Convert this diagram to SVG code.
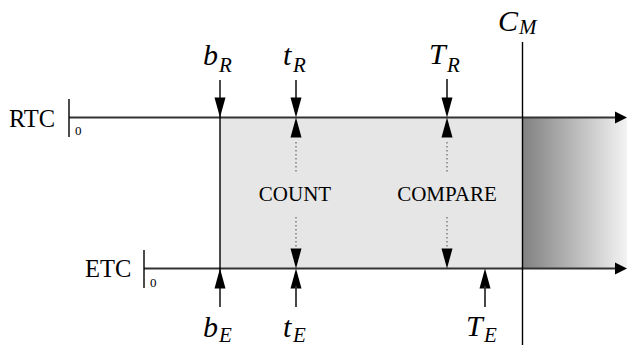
<svg xmlns="http://www.w3.org/2000/svg" xmlns:xlink="http://www.w3.org/1999/xlink" width="627" height="348" viewBox="0 0 627 348">
<style>
.ax{stroke:#333;stroke-width:2;fill:none}
.vl{stroke:#000;stroke-width:1.4;fill:none}
.ar{stroke:#333;stroke-width:1.8;fill:none}
.dot{stroke:#666;stroke-width:1.2;stroke-dasharray:1.5 2.5;fill:none}
.hd{fill:#000}
.tx{font-family:"Liberation Serif","Times New Roman",serif;fill:#000}
.m{font-family:"Liberation Serif","Times New Roman",serif;font-style:italic;fill:#000}
</style>
<defs>
<linearGradient id="g" x1="0" y1="0" x2="1" y2="0">
<stop offset="0" stop-color="#808080"/>
<stop offset="1" stop-color="#f3f3f3"/>
</linearGradient>
<path id="ad" d="M-5.5,-20 L5.5,-20 L0,0 Z"/>
<path id="au" d="M-5.5,20 L5.5,20 L0,0 Z"/>
<path id="ar" d="M-12,-6 L0,0 L-12,6 Z"/>
</defs>
<g id="regions">
<rect x="220" y="117.5" width="302" height="151" fill="#e6e6e6"/>
<rect x="522" y="117.5" width="105" height="151" fill="url(#g)"/>
</g>
<g id="connectors">
<line class="ax" x1="69" y1="117.5" x2="618" y2="117.5"/>
<line class="ax" x1="144" y1="268.5" x2="618" y2="268.5"/>
<use href="#ar" class="hd" x="627" y="117.5"/>
<use href="#ar" class="hd" x="627" y="268.5"/>
<line class="vl" x1="69" y1="99" x2="69" y2="137"/>
<line class="vl" x1="144" y1="250" x2="144" y2="288"/>
<line class="vl" x1="220" y1="80" x2="220" y2="307"/>
<line class="vl" x1="522.5" y1="42" x2="522.5" y2="345"/>
<use href="#ad" class="hd" x="220" y="117.5"/>
<use href="#au" class="hd" x="220" y="268.5"/>
<line class="ar" x1="296" y1="80" x2="296" y2="100"/>
<use href="#ad" class="hd" x="296" y="117.5"/>
<use href="#au" class="hd" x="296" y="117.5"/>
<line class="dot" x1="296" y1="142" x2="296" y2="173"/>
<line class="dot" x1="296" y1="217" x2="296" y2="248"/>
<use href="#ad" class="hd" x="296" y="268.5"/>
<use href="#au" class="hd" x="296" y="268.5"/>
<line class="ar" x1="296" y1="286" x2="296" y2="307"/>
<line class="ar" x1="447" y1="79" x2="447" y2="100"/>
<use href="#ad" class="hd" x="447" y="117.5"/>
<use href="#au" class="hd" x="447" y="117.5"/>
<line class="dot" x1="447" y1="142" x2="447" y2="173"/>
<line class="dot" x1="447" y1="217" x2="447" y2="248"/>
<use href="#ad" class="hd" x="447" y="268.5"/>
<use href="#au" class="hd" x="485" y="268.5"/>
<line class="ar" x1="485" y1="286" x2="485" y2="307"/>
</g>
<g id="rtc"><text class="tx" x="9" y="127" font-size="24.5">RTC</text><text class="tx" x="75" y="135" font-size="13">0</text></g>
<g id="etc"><text class="tx" x="85" y="277" font-size="24.5">ETC</text><text class="tx" x="150" y="287" font-size="13">0</text></g>
<g id="count"><text class="tx" x="295" y="201" font-size="21" text-anchor="middle">COUNT</text></g>
<g id="compare"><text class="tx" x="447" y="201" font-size="21" text-anchor="middle">COMPARE</text></g>
<g id="bR"><text class="m" x="203" y="65" font-size="30">b<tspan x="219" y="72" font-size="21">R</tspan></text></g>
<g id="tR"><text class="m" x="283" y="65" font-size="30">t<tspan x="293" y="72" font-size="21">R</tspan></text></g>
<g id="TR"><text class="m" x="429" y="64" font-size="30">T<tspan x="447" y="72" font-size="21">R</tspan></text></g>
<g id="CM"><text class="m" x="498" y="31" font-size="30">C<tspan x="519" y="34" font-size="21">M</tspan></text></g>
<g id="bE"><text class="m" x="203" y="337" font-size="30">b<tspan x="219" y="342" font-size="21">E</tspan></text></g>
<g id="tE"><text class="m" x="283" y="337" font-size="30">t<tspan x="293" y="342" font-size="21">E</tspan></text></g>
<g id="TE"><text class="m" x="466" y="336" font-size="30">T<tspan x="484" y="342" font-size="21">E</tspan></text></g>
</svg>
